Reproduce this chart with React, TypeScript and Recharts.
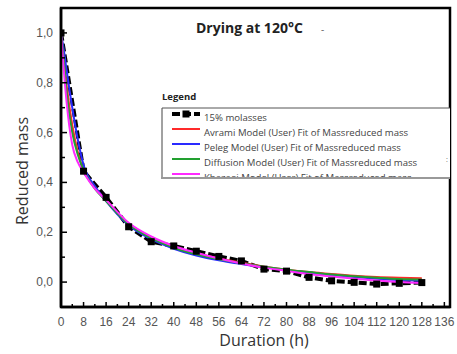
import React from "react";
import { LineChart, Line, XAxis, YAxis, ReferenceArea } from "recharts";

const expTimes = [0, 8, 16, 24, 32, 40, 48, 56, 64, 72, 80, 88, 96, 104, 112, 120, 128];
const expValues = [1.0, 0.445, 0.34, 0.222, 0.162, 0.145, 0.124, 0.103, 0.085, 0.052, 0.044, 0.019, 0.005, -0.001, -0.008, -0.005, -0.002];

const fitTimes = [0, 1, 2, 4, 6, 8, 12, 16, 24, 32, 40, 48, 56, 64, 72, 80, 88, 96, 104, 112, 120, 128];
const avramiValues = [1.0, 0.9, 0.79, 0.63, 0.52, 0.45, 0.38, 0.328, 0.235, 0.18, 0.142, 0.116, 0.095, 0.078, 0.062, 0.05, 0.04, 0.032, 0.025, 0.02, 0.017, 0.015];
const pelegValues = [1.0, 0.93, 0.85, 0.7, 0.57, 0.47, 0.385, 0.325, 0.228, 0.172, 0.134, 0.107, 0.088, 0.073, 0.06, 0.048, 0.038, 0.028, 0.02, 0.013, 0.008, 0.005];
const diffusionValues = [1.0, 0.89, 0.76, 0.6, 0.51, 0.45, 0.375, 0.325, 0.232, 0.176, 0.138, 0.112, 0.092, 0.076, 0.062, 0.05, 0.04, 0.03, 0.023, 0.017, 0.012, 0.01];
const khazaeiValues = [1.0, 0.85, 0.72, 0.55, 0.48, 0.44, 0.375, 0.33, 0.238, 0.183, 0.145, 0.118, 0.095, 0.075, 0.058, 0.045, 0.032, 0.022, 0.013, 0.006, 0.0, -0.004];

const seriesNames = [
  "15% molasses",
  "Avrami Model (User) Fit of Massreduced mass",
  "Peleg  Model (User) Fit of Massreduced mass",
  "Diffusion Model (User) Fit of Massreduced mass",
  "Khazaei Model (User) Fit of Massreduced mass",
];
const seriesColors = ["#000000", "#ff2a2a", "#2a2aff", "#22a030", "#ff2aff"];

const xTicks = Array.from({ length: 35 }, (_, i) => i * 4);
const yTicks = [0, 0.1, 0.2, 0.3, 0.4, 0.5, 0.6, 0.7, 0.8, 0.9, 1.0];

const expData = expTimes.map((t, i) => ({ t, v: expValues[i] }));
const mk = (vals: number[]) => fitTimes.map((t, i) => ({ t, v: vals[i] }));
const fitSets = [avramiValues, pelegValues, diffusionValues, khazaeiValues].map(mk);

const W = 457;
const H = 354;

const XTick = (props: any) => {
  const { x, y, payload } = props;
  const major = payload.value % 8 === 0;
  return (
    <g>
      <line x1={x} x2={x} y1={y} y2={y - (major ? 5 : 3)} stroke="#000" strokeWidth={1.5} />
      {major && (
        <text x={x} y={y + 19} textAnchor="middle" fontSize={12} fill="#555" fontFamily="Liberation Sans, Arial, sans-serif">
          {payload.value}
        </text>
      )}
    </g>
  );
};

const YTick = (props: any) => {
  const { x, y, payload } = props;
  const v = Math.round(payload.value * 10);
  const major = v % 2 === 0;
  return (
    <g>
      <line x1={x} x2={x + (major ? 6 : 4)} y1={y} y2={y} stroke="#000" strokeWidth={1.5} />
      {major && (
        <text x={x - 8} y={y + 4} textAnchor="end" fontSize={12} fill="#555" fontFamily="Liberation Sans, Arial, sans-serif">
          {payload.value.toFixed(1).replace(".", ",")}
        </text>
      )}
    </g>
  );
};

const ExpDot = (props: any) => {
  const { cx, cy } = props;
  if (cx == null || cy == null) return null;
  return <rect x={cx - 3.5} y={cy - 3.5} width={7} height={7} fill="#000" />;
};

export default function App() {
  const legendTop = 108;
  const rowH = 15;
  return (
    <div style={{ position: "absolute", left: 0, top: 0, width: W, height: H, background: "#fff" }}>
      <LineChart width={W} height={H} margin={{ top: 8, right: 7, bottom: 0, left: 0 }}>
        <XAxis
          type="number"
          dataKey="t"
          domain={[0, 138]}
          ticks={xTicks}
          interval={0}
          tickSize={0}
          tickMargin={0}
          tick={<XTick />}
          height={47}
          axisLine={{ stroke: "#000", strokeWidth: 2.5 }}
          allowDataOverflow
        />
        <YAxis
          type="number"
          domain={[-0.1, 1.1]}
          ticks={yTicks}
          interval={0}
          tickSize={0}
          tickMargin={0}
          tick={<YTick />}
          width={61}
          axisLine={{ stroke: "#000", strokeWidth: 2.5 }}
          allowDataOverflow
        />
        <ReferenceArea x1={0} x2={138} y1={-0.1} y2={1.1} fill="none" stroke="#000" strokeWidth={2.5} ifOverflow="visible" />
        <Line
          data={expData}
          dataKey="v"
          stroke="#000"
          strokeWidth={4}
          strokeDasharray="8 3"
          dot={<ExpDot />}
          isAnimationActive={false}
          type="linear"
        />
        {fitSets.map((d, i) => (
          <Line
            key={i}
            data={d}
            dataKey="v"
            stroke={seriesColors[i + 1]}
            strokeWidth={2}
            dot={false}
            isAnimationActive={false}
            type="monotone"
          />
        ))}
      </LineChart>
      <svg width={W} height={H} style={{ position: "absolute", left: 0, top: 0, pointerEvents: "none" }}>
        <text x={196} y={33} fontSize={14} fontWeight="bold" fill="#222" fontFamily="Open Sans, sans-serif">
          Drying at 120°C
        </text>
        <text x={321} y={33} fontSize={10} fill="#666" fontFamily="Open Sans, sans-serif">-</text>
        <text x={22} y={171} fontSize={16} fill="#333" textAnchor="middle" fontFamily="Open Sans, sans-serif" transform="rotate(-90 22 171)" dominantBaseline="central">
          Reduced mass
        </text>
        <text x={264} y={346} fontSize={16} fill="#333" textAnchor="middle" fontFamily="Open Sans, sans-serif">
          Duration (h)
        </text>
        <text x={162} y={100} fontSize={9.5} fontWeight="bold" fill="#222" fontFamily="Open Sans, sans-serif">
          Legend
        </text>
        <defs>
          <clipPath id="legclip">
            <rect x={162} y={legendTop} width={288} height={70} />
          </clipPath>
        </defs>
        <rect x={162} y={legendTop} width={288} height={70} fill="#fff" />
        <g clipPath="url(#legclip)">
          {seriesNames.map((n, i) => {
            const ly = legendTop + 6 + i * rowH;
            return (
              <g key={i}>
                {i === 0 ? (
                  <g>
                    <line x1={172} x2={200} y1={ly} y2={ly} stroke="#000" strokeWidth={4} strokeDasharray="8 3" />
                    <rect x={182.5} y={ly - 3.5} width={7} height={7} fill="#000" />
                  </g>
                ) : (
                  <line x1={172} x2={200} y1={ly} y2={ly} stroke={seriesColors[i]} strokeWidth={2} />
                )}
                <text x={204} y={ly + 6.5} fontSize={9.6} fill="#444" fontFamily="Open Sans, sans-serif">
                  {n}
                </text>
              </g>
            );
          })}
        </g>
        <line x1={162} x2={162} y1={legendTop} y2={178} stroke="#444" strokeWidth={1} />
        <line x1={162} x2={450} y1={legendTop} y2={legendTop} stroke="#555" strokeWidth={1} />
        <line x1={161} x2={450} y1={178} y2={178} stroke="#999" strokeWidth={2} />
        <text x={446} y={162} fontSize={7} fill="#666" fontFamily="Open Sans, sans-serif">:</text>
      </svg>
    </div>
  );
}
